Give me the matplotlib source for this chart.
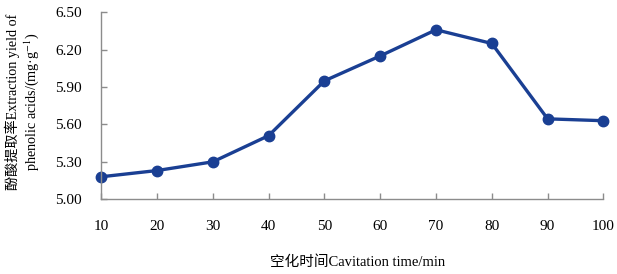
import matplotlib
matplotlib.use("Agg")
import matplotlib.pyplot as plt

plt.rcParams['font.family'] = ['Liberation Serif', 'Noto Sans CJK SC']
plt.rcParams['mathtext.fontset'] = 'stix'

times = [10, 20, 30, 40, 50, 60, 70, 80, 90, 100]
yields = [5.18, 5.23, 5.30, 5.51, 5.95, 6.15, 6.36, 6.25, 5.645, 5.63]
yticks = [5.00, 5.30, 5.60, 5.90, 6.20, 6.50]

fig = plt.figure(figsize=(6.17, 2.74), dpi=100)
ax = fig.add_axes([0.164, 0.273, 0.814, 0.682])

ax.plot(times, yields, color='#1A3F93', lw=2.4, marker='o', ms=7.5,
        markerfacecolor='#1A3F93', markeredgecolor='#1A3F93', clip_on=False)

ax.set_xlim(10, 100)
ax.set_ylim(5.0, 6.5)
ax.set_xticks(times)
ax.set_yticks(yticks)
ax.set_yticklabels(["%.2f" % v for v in yticks])

for s in ['top', 'right']:
    ax.spines[s].set_visible(False)
for s in ['left', 'bottom']:
    ax.spines[s].set_color('#8c8c8c')
    ax.spines[s].set_linewidth(1.0)

ax.tick_params(axis='both', colors='#8c8c8c', labelcolor='black',
               labelsize=11, length=4, width=1.0, direction='in')
ax.tick_params(axis='x', pad=15)
ax.tick_params(axis='y', pad=14)

ax.set_xlabel('空化时间Cavitation time/min', fontsize=10.5)
ax.xaxis.set_label_coords(0.51, -0.30)
ax.set_ylabel('酚酸提取率Extraction yield of\nphenolic acids/(mg·g$^{-1}$)',
              fontsize=10.2, linespacing=1.15)
ax.yaxis.set_label_coords(-0.12, 0.52)

fig.savefig('out.png', dpi=100)
